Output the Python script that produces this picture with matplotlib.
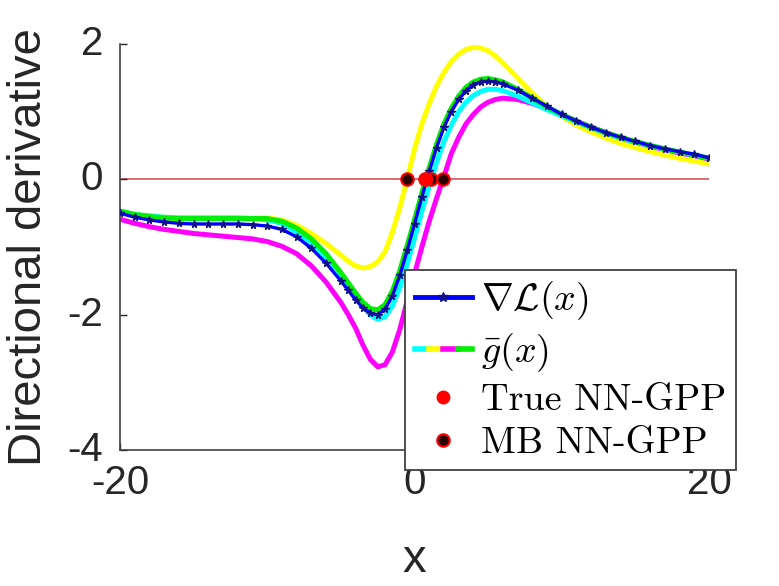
import matplotlib
matplotlib.use("Agg")
import matplotlib.pyplot as plt
from matplotlib.lines import Line2D
from matplotlib.legend_handler import HandlerTuple

# ---- data ----
x = [-20, -19, -18, -17, -16, -15, -14, -13, -12, -11, -10, -9, -8, -7, -6, -5,
     -4.5, -4, -3.5, -3, -2.5, -2, -1.5, -1, -0.5, 0, 0.5, 1, 1.5, 2, 2.5, 3,
     3.5, 4, 4.5, 5, 5.5, 6, 7, 8, 9, 10, 11, 12, 13, 14, 15, 16, 17, 18, 19, 20]

grad_L = [-0.50, -0.56, -0.60, -0.63, -0.65, -0.66, -0.66, -0.66, -0.66, -0.67, -0.69, -0.74,
          -0.85, -1.02, -1.24, -1.50, -1.64, -1.78, -1.90, -1.98, -2.00, -1.92, -1.72, -1.42,
          -1.05, -0.66, -0.26, 0.12, 0.47, 0.77, 1.00, 1.18, 1.31, 1.40, 1.44, 1.45, 1.44, 1.41,
          1.32, 1.20, 1.08, 0.96, 0.86, 0.77, 0.69, 0.62, 0.56, 0.50, 0.45, 0.41, 0.37, 0.32]

g_cyan = [-0.47, -0.52, -0.54, -0.56, -0.57, -0.57, -0.57, -0.57, -0.57, -0.58, -0.60, -0.65,
          -0.78, -0.95, -1.17, -1.44, -1.59, -1.74, -1.88, -2.00, -2.07, -2.03, -1.87, -1.60,
          -1.25, -0.87, -0.47, -0.10, 0.25, 0.56, 0.80, 1.00, 1.14, 1.24, 1.30, 1.33, 1.33, 1.31,
          1.23, 1.13, 1.03, 0.94, 0.85, 0.76, 0.68, 0.61, 0.55, 0.50, 0.45, 0.40, 0.36, 0.31]

g_yellow = [-0.48, -0.52, -0.54, -0.56, -0.57, -0.57, -0.57, -0.57, -0.57, -0.57, -0.57, -0.60,
            -0.68, -0.80, -0.95, -1.12, -1.21, -1.28, -1.31, -1.29, -1.22, -1.07, -0.78, -0.42,
            0.00, 0.45, 0.82, 1.12, 1.38, 1.58, 1.74, 1.85, 1.92, 1.95, 1.94, 1.90, 1.82, 1.72,
            1.50, 1.27, 1.08, 0.93, 0.80, 0.70, 0.61, 0.53, 0.47, 0.41, 0.36, 0.31, 0.27, 0.23]

g_magenta = [-0.59, -0.65, -0.70, -0.74, -0.77, -0.80, -0.82, -0.84, -0.86, -0.88, -0.92, -0.99,
             -1.10, -1.28, -1.52, -1.82, -2.00, -2.20, -2.45, -2.66, -2.77, -2.74, -2.55, -2.22,
             -1.80, -1.40, -1.00, -0.62, -0.28, 0.04, 0.38, 0.62, 0.82, 0.96, 1.07, 1.14, 1.18, 1.20,
             1.18, 1.12, 1.04, 0.95, 0.86, 0.77, 0.69, 0.61, 0.55, 0.49, 0.44, 0.39, 0.35, 0.30]

g_green = [-0.47, -0.52, -0.55, -0.57, -0.58, -0.58, -0.58, -0.58, -0.58, -0.58, -0.58, -0.62,
           -0.72, -0.88, -1.10, -1.38, -1.53, -1.68, -1.82, -1.91, -1.93, -1.85, -1.65, -1.35,
           -0.98, -0.60, -0.20, 0.17, 0.52, 0.82, 1.05, 1.23, 1.36, 1.44, 1.48, 1.49, 1.47, 1.44,
           1.33, 1.20, 1.07, 0.96, 0.86, 0.77, 0.69, 0.62, 0.56, 0.50, 0.45, 0.40, 0.36, 0.31]

zero_x = [-20, 20]
zero_y = [0, 0]
true_gpp_x = [0.8]
mb_gpp_x = [-0.5, 0.7, 1.15, 1.95]

x_ticks = [-20, 0, 20]
y_ticks = [-4, -2, 0, 2]
x_label = "x"
y_label = "Directional derivative"
legend_labels = [r"$\nabla\mathcal{L}(x)$", r"$\bar{g}(x)$", "True NN-GPP", "MB NN-GPP"]

# ---- figure ----
plt.rcParams["font.family"] = ["Liberation Sans", "DejaVu Sans"]
plt.rcParams["mathtext.fontset"] = "cm"

fig = plt.figure(figsize=(7.79, 5.86), dpi=100)
ax = fig.add_axes([120 / 779, 1 - 450 / 586, 589 / 779, 406 / 586])

ax.plot(zero_x, zero_y, color="#d9505a", lw=1.2, zorder=1)

glw = 3.6
ax.plot(x, g_yellow, color="#ffff00", lw=glw, zorder=2)
ax.plot(x, g_magenta, color="#ff00ff", lw=glw, zorder=2)
ax.plot(x, g_cyan, color="#00ffff", lw=glw, zorder=2)
ax.plot(x, g_green, color="#00ee00", lw=glw, zorder=2)
ax.plot(x, grad_L, color="#0000ff", lw=2.4, marker="*", ms=5.5,
        mec="#10108a", mfc="#10108a", zorder=3)

ax.plot(mb_gpp_x, [0] * len(mb_gpp_x), ls="none", marker="o", ms=9,
        mfc="#2a0000", mec="#ff0000", mew=1.5, zorder=4)
ax.plot(true_gpp_x, [0] * len(true_gpp_x), ls="none", marker="o", ms=9,
        mfc="#ff0000", mec="#ff0000", zorder=5)

ax.set_xlim(-20, 20)
ax.set_ylim(-4, 2)
ax.set_xticks(x_ticks)
ax.set_yticks(y_ticks)
ax.set_xticklabels([str(v) for v in x_ticks])
ax.set_yticklabels([str(v) for v in y_ticks])
ax.tick_params(direction="in", length=5, width=1, labelsize=29, colors="#262626")
ax.tick_params(axis="y", pad=12)
ax.tick_params(axis="x", pad=10)
for lbl in ax.get_yticklabels():
    lbl.set_verticalalignment("center")
for s in ["top", "right"]:
    ax.spines[s].set_visible(False)
for s in ["left", "bottom"]:
    ax.spines[s].set_color("#404040")
    ax.spines[s].set_linewidth(1.2)
ax.set_xlabel(x_label, fontsize=34, color="#262626", labelpad=26)
ax.set_ylabel(y_label, fontsize=34, color="#262626", labelpad=12)

h1 = Line2D([], [], color="#0000ff", lw=3.5, marker="*", ms=7, mec="#10108a", mfc="#10108a",
            markevery=[1])
segs = tuple(Line2D([], [], color=c, lw=4) for c in ["#00ffff", "#ffff00", "#ff00ff", "#00ee00"])
h3 = Line2D([], [], ls="none", marker="o", ms=9, mfc="#ff0000", mec="#ff0000")
h4 = Line2D([], [], ls="none", marker="o", ms=9, mfc="#2a0000", mec="#ff0000", mew=1.5)

leg = ax.legend([h1, segs, h3, h4], legend_labels,
                handler_map={tuple: HandlerTuple(ndivide=None, pad=0)},
                loc="upper left", bbox_to_anchor=(405 / 779, 1 - 270 / 586),
                bbox_transform=fig.transFigure, prop={"family": "cmr10", "size": 27.5},
                frameon=True, fancybox=False, framealpha=1, edgecolor="#404040",
                handlelength=1.5, handletextpad=0.25, labelspacing=0.24, borderpad=0.25,
                borderaxespad=0)
leg.get_frame().set_linewidth(1.3)
leg.set_zorder(10)

fig.savefig("out.png", dpi=100)
